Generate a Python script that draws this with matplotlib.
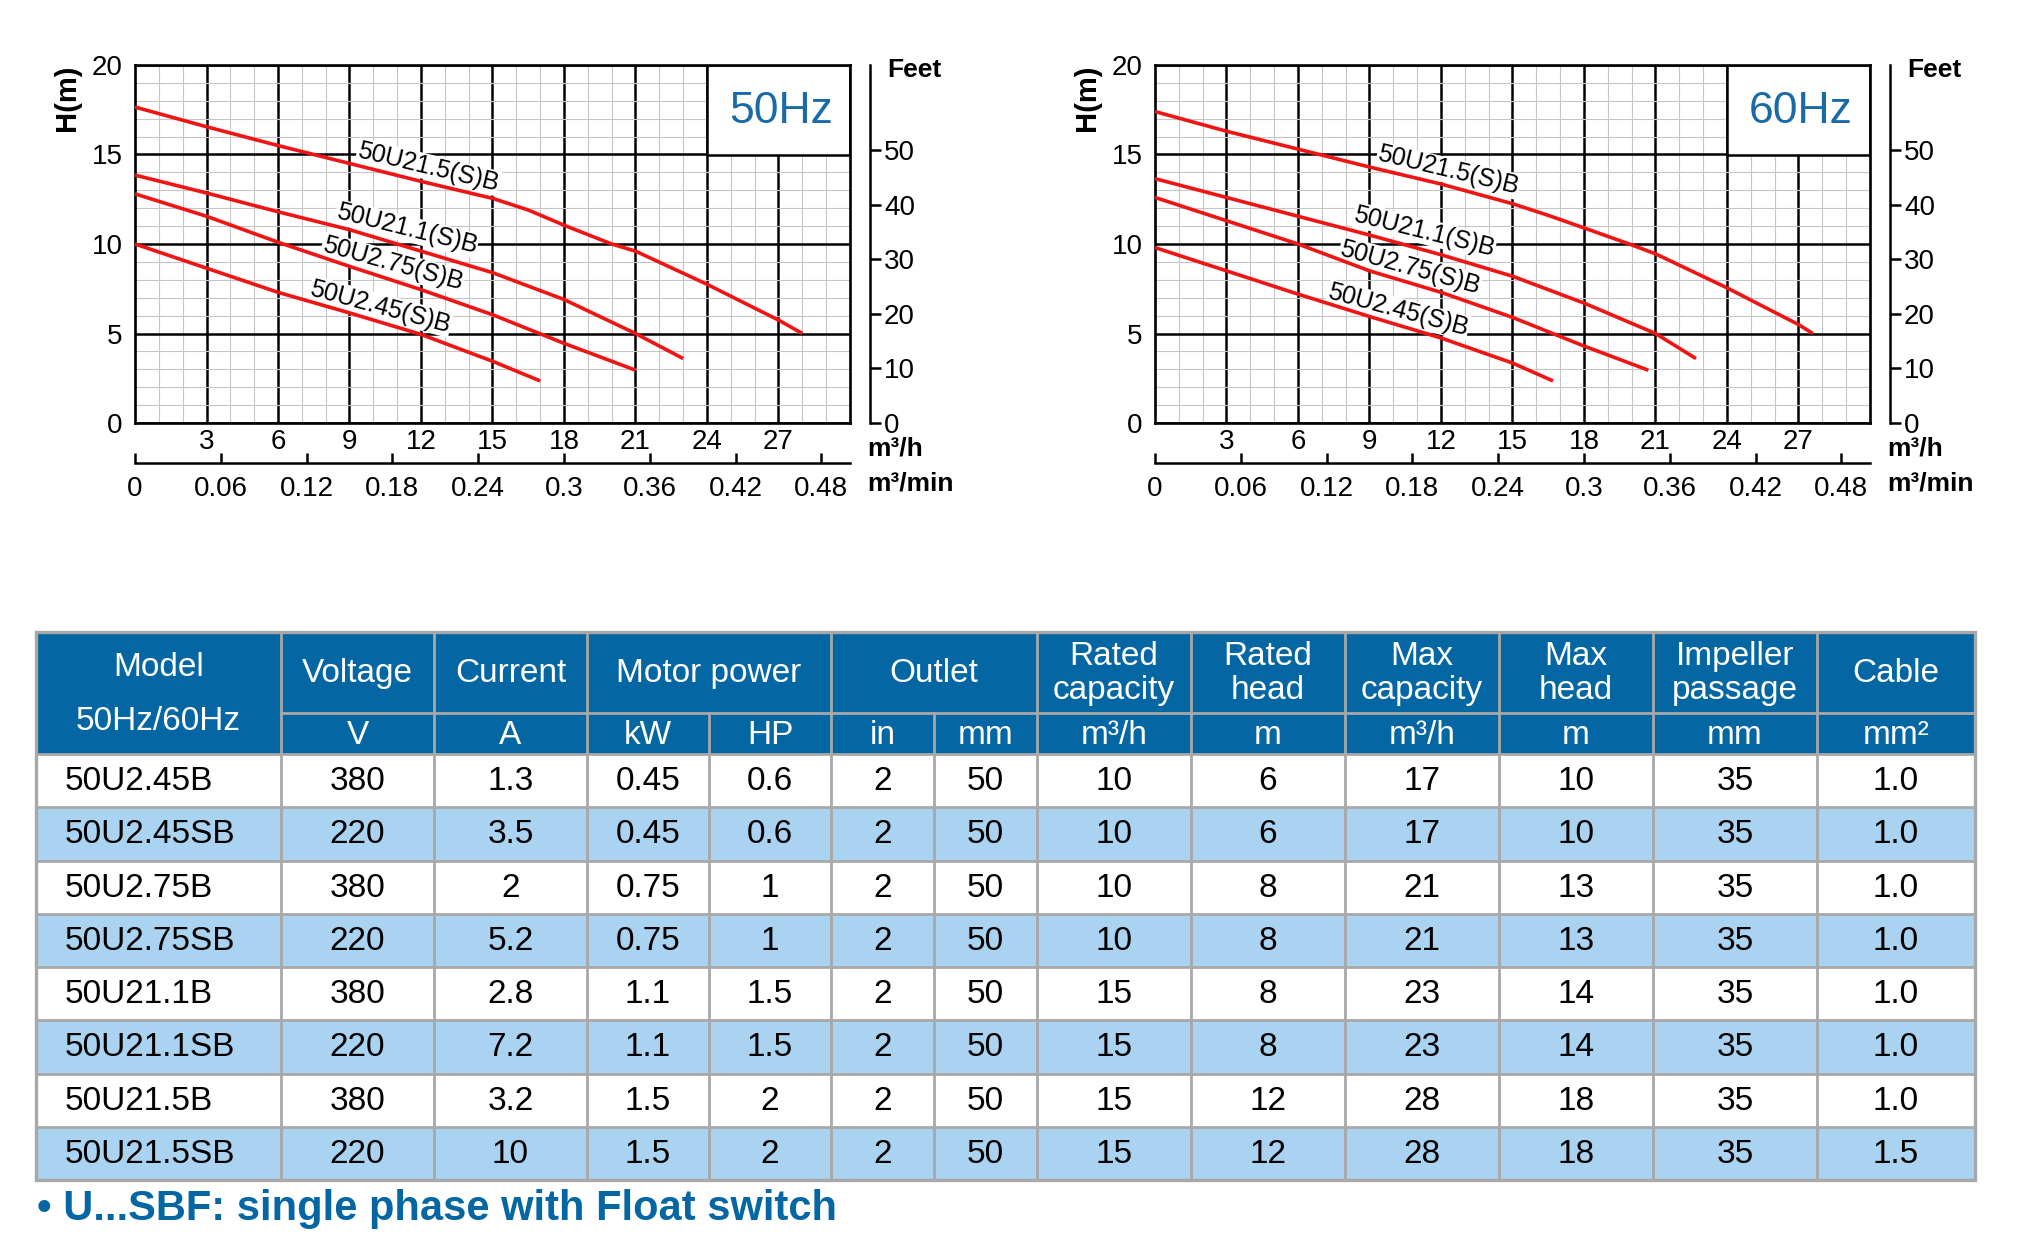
import numpy as np
import matplotlib
matplotlib.use("Agg")
import matplotlib.pyplot as plt
from matplotlib.patches import Rectangle

plt.rcParams['font.family'] = ['Liberation Sans', 'DejaVu Sans']

# ---- pump curves, flow in m3/h, head in m ----
curve_names = ["50U21.5(S)B", "50U21.1(S)B", "50U2.75(S)B", "50U2.45(S)B"]

q_50_215 = [0, 3, 6, 9, 12, 15, 16.5, 18, 20, 21, 24, 27, 28]
h_50_215 = [17.65, 16.55, 15.5, 14.5, 13.5, 12.55, 11.9, 11.05, 10.0, 9.6, 7.75, 5.75, 5.0]
q_50_211 = [0, 3, 6, 9, 12, 15, 18, 21, 23]
h_50_211 = [13.85, 12.85, 11.8, 10.8, 9.6, 8.4, 6.9, 5.0, 3.6]
q_50_275 = [0, 3, 6, 9, 12, 15, 18, 21]
h_50_275 = [12.8, 11.55, 10.1, 8.75, 7.45, 6.05, 4.45, 2.95]
q_50_245 = [0, 3, 6, 9, 12, 15, 17]
h_50_245 = [10.0, 8.65, 7.3, 6.15, 4.95, 3.45, 2.35]

q_60_215 = [0, 3, 6, 9, 12, 15, 16.5, 18, 20, 21, 24, 27, 27.6]
h_60_215 = [17.4, 16.3, 15.3, 14.3, 13.35, 12.25, 11.6, 10.9, 9.95, 9.45, 7.55, 5.5, 5.0]
q_60_211 = [0, 3, 6, 9, 12, 15, 18, 21, 22.7]
h_60_211 = [13.65, 12.6, 11.55, 10.5, 9.4, 8.2, 6.7, 5.0, 3.6]
q_60_275 = [0, 3, 6, 9, 12, 15, 18, 20.7]
h_60_275 = [12.6, 11.3, 10.0, 8.5, 7.3, 5.9, 4.3, 2.95]
q_60_245 = [0, 3, 6, 9, 12, 15, 16.7]
h_60_245 = [9.8, 8.5, 7.2, 5.95, 4.75, 3.35, 2.35]

# label anchor (flow, head) and angle for each curve name
lab_q_50 = [12.3, 11.4, 10.8, 10.3]
lab_h_50 = [14.3, 10.85, 8.9, 6.5]
lab_q_60 = [12.3, 11.3, 10.7, 10.2]
lab_h_60 = [14.1, 10.7, 8.7, 6.3]
lab_rot = [-13.5, -14, -15.5, -15]

# ---- table ----
models = ["50U2.45B", "50U2.45SB", "50U2.75B", "50U2.75SB",
          "50U21.1B", "50U21.1SB", "50U21.5B", "50U21.5SB"]
voltage = ["380", "220", "380", "220", "380", "220", "380", "220"]
current = ["1.3", "3.5", "2", "5.2", "2.8", "7.2", "3.2", "10"]
power_kw = ["0.45", "0.45", "0.75", "0.75", "1.1", "1.1", "1.5", "1.5"]
power_hp = ["0.6", "0.6", "1", "1", "1.5", "1.5", "2", "2"]
outlet_in = ["2", "2", "2", "2", "2", "2", "2", "2"]
outlet_mm = ["50", "50", "50", "50", "50", "50", "50", "50"]
rated_cap = ["10", "10", "10", "10", "15", "15", "15", "15"]
rated_head = ["6", "6", "8", "8", "8", "8", "12", "12"]
max_cap = ["17", "17", "21", "21", "23", "23", "28", "28"]
max_head = ["10", "10", "13", "13", "14", "14", "18", "18"]
impeller = ["35", "35", "35", "35", "35", "35", "35", "35"]
cable = ["1.0", "1.0", "1.0", "1.0", "1.0", "1.0", "1.0", "1.5"]

units = ["V", "A", "kW", "HP", "in", "mm", "m³/h", "m", "m³/h", "m", "mm", "mm²"]
footer = "• U...SBF: single phase with Float switch"

BLUE = "#0467a3"
LIGHT = "#a9d3f0"
GRAYLINE = "#a8a8a8"
RED = "#f01414"

W, H = 2040, 1247
fig = plt.figure(figsize=(W / 100, H / 100), dpi=100)

# background axes in pixel coordinates for the table
tax = fig.add_axes([0, 0, 1, 1])
tax.set_xlim(0, W)
tax.set_ylim(H, 0)
tax.axis("off")


def fx(px):
    return px / W


def fy(py):
    return 1 - py / H


def pump_chart(x0, hz, curves, lab_q, lab_h):
    top, bot, wid = 65, 423, 715
    ax = fig.add_axes([fx(x0), fy(bot), wid / W, (bot - top) / H])
    ax.set_xlim(0, 30)
    ax.set_ylim(0, 20)
    ax.set_xticks(np.arange(3, 28, 3))
    ax.set_xticks(np.arange(0, 31, 1), minor=True)
    ax.set_yticks(np.arange(0, 21, 5))
    ax.set_yticks(np.arange(0, 21, 1), minor=True)
    ax.grid(which="minor", color="#c6c6c6", lw=0.8, zorder=0)
    ax.grid(which="major", color="black", lw=1.8, zorder=0.5)
    ax.set_axisbelow(True)
    ax.tick_params(which="both", length=0)
    ax.tick_params(axis="x", labelsize=20, pad=4)
    ax.tick_params(axis="y", labelsize=20, pad=9)
    for s in ax.spines.values():
        s.set_linewidth(1.9)
        s.set_color("black")

    # white box behind the frequency tag
    ax.add_patch(Rectangle((24, 15), 6, 5, fc="white", ec="black", lw=1.8, zorder=1))
    ax.text(27.1, 17.4, hz, ha="center", va="center", fontsize=32, color="#1a6aa8",
            zorder=4)

    for (q, h), name, lq, lh, rot in zip(curves, curve_names, lab_q, lab_h, lab_rot):
        ax.plot(q, h, color=RED, lw=2.6, zorder=3, solid_capstyle="butt")
        ax.text(lq, lh, name, rotation=rot, rotation_mode="anchor", ha="center", va="center",
                fontsize=18, zorder=2,
                bbox=dict(boxstyle="square,pad=0.03", fc="white", ec="none"))

    # H(m) label
    fig.text(fx(x0 - 68), fy(98), "H(m)", rotation=90, ha="center", va="center",
             fontsize=21, fontweight="bold")

    # feet axis
    fax = fig.add_axes([fx(x0 + wid + 19), fy(bot), 1 / W, (bot - top) / H])
    fax.set_ylim(0, 20 / 0.3048)
    fax.patch.set_visible(False)
    for k in ["left", "top", "bottom"]:
        fax.spines[k].set_visible(False)
    fax.spines["right"].set_linewidth(1.8)
    fax.set_xticks([])
    fax.yaxis.tick_right()
    fax.set_yticks(np.arange(0, 51, 10))
    fax.tick_params(axis="y", direction="out", length=8, width=1.8, labelsize=20, pad=2)
    fig.text(fx(x0 + wid + 37), fy(70), "Feet", ha="left", va="center", fontsize=19,
             fontweight="bold")

    # m3/min axis
    max_ = fig.add_axes([fx(x0), fy(463), wid / W, 1 / H])
    max_.set_xlim(0, 0.5)
    max_.patch.set_visible(False)
    for k in ["left", "top", "right"]:
        max_.spines[k].set_visible(False)
    max_.spines["bottom"].set_linewidth(1.8)
    max_.set_yticks([])
    mticks = np.arange(0, 0.49, 0.06)
    max_.set_xticks(mticks)
    max_.set_xticklabels(["0" if t == 0 else ("%.2f" % t).rstrip("0") for t in mticks])
    max_.tick_params(axis="x", direction="in", length=7, width=1.8, labelsize=20, pad=9)
    fig.text(fx(x0 + wid + 17), fy(449), "m³/h", ha="left", va="center", fontsize=19,
             fontweight="bold")
    fig.text(fx(x0 + wid + 17), fy(484), "m³/min", ha="left", va="center", fontsize=19,
             fontweight="bold")


pump_chart(135, "50Hz",
           [(q_50_215, h_50_215), (q_50_211, h_50_211), (q_50_275, h_50_275), (q_50_245, h_50_245)],
           lab_q_50, lab_h_50)
pump_chart(1155, "60Hz",
           [(q_60_215, h_60_215), (q_60_211, h_60_211), (q_60_275, h_60_275), (q_60_245, h_60_245)],
           lab_q_60, lab_h_60)

# ---- table drawing ----
col_x = [36, 281, 434, 587, 709, 831, 934, 1037, 1191, 1345, 1499, 1653, 1817, 1975]
t_top, h1, h2 = 632, 713, 754
row_h = 53.25
columns = [models, voltage, current, power_kw, power_hp, outlet_in, outlet_mm,
           rated_cap, rated_head, max_cap, max_head, impeller, cable]
n_rows = len(models)
t_bot = h2 + n_rows * row_h
fs_t = 24

tax.add_patch(Rectangle((col_x[0], t_top), col_x[-1] - col_x[0], h2 - t_top, fc=BLUE, ec="none"))
for i in range(n_rows):
    y0 = h2 + i * row_h
    tax.add_patch(Rectangle((col_x[0], y0), col_x[-1] - col_x[0], row_h,
                            fc="white" if i % 2 == 0 else LIGHT, ec="none"))
    for j, col in enumerate(columns):
        if j == 0:
            tax.text(col_x[0] + 29, y0 + row_h / 2 + 1, col[i], ha="left", va="center",
                     fontsize=fs_t)
        else:
            tax.text((col_x[j] + col_x[j + 1]) / 2, y0 + row_h / 2 + 1, col[i], ha="center",
                     va="center", fontsize=fs_t)

# header texts
head_spans = [(1, 2, "Voltage"), (2, 3, "Current"), (3, 5, "Motor power"), (5, 7, "Outlet"),
              (7, 8, "Rated\ncapacity"), (8, 9, "Rated\nhead"), (9, 10, "Max\ncapacity"),
              (10, 11, "Max\nhead"), (11, 12, "Impeller\npassage"), (12, 13, "Cable")]
for a, b, txt in head_spans:
    tax.text((col_x[a] + col_x[b]) / 2, (t_top + h1) / 2 + 1, txt, ha="center", va="center",
             fontsize=fs_t, color="white", linespacing=1.1)
for j, u in enumerate(units):
    tax.text((col_x[j + 1] + col_x[j + 2]) / 2, (h1 + h2) / 2 + 2, u, ha="center", va="center",
             fontsize=fs_t, color="white")
tax.text((col_x[0] + col_x[1]) / 2, 668, "Model", ha="center", va="center", fontsize=fs_t,
         color="white")
tax.text((col_x[0] + col_x[1]) / 2, 722, "50Hz/60Hz", ha="center", va="center", fontsize=fs_t,
         color="white")

# grid lines of the table
lw_t = 2.0
for y in [h2 + i * row_h for i in range(1, n_rows)]:
    tax.plot([col_x[0], col_x[-1]], [y, y], color=GRAYLINE, lw=lw_t)
tax.plot([col_x[1], col_x[-1]], [h1, h1], color=GRAYLINE, lw=lw_t)
tax.plot([col_x[0], col_x[-1]], [h2, h2], color=GRAYLINE, lw=lw_t)
for j, x in enumerate(col_x[1:-1], start=1):
    ystart = h1 if j in (4, 6) else t_top
    tax.plot([x, x], [ystart, t_bot], color=GRAYLINE, lw=lw_t)
tax.add_patch(Rectangle((col_x[0], t_top), col_x[-1] - col_x[0], t_bot - t_top,
                        fc="none", ec=GRAYLINE, lw=2.4))

tax.text(37, 1209, footer, ha="left", va="center", fontsize=30, fontweight="bold", color=BLUE)

fig.savefig("out.png", dpi=100)
